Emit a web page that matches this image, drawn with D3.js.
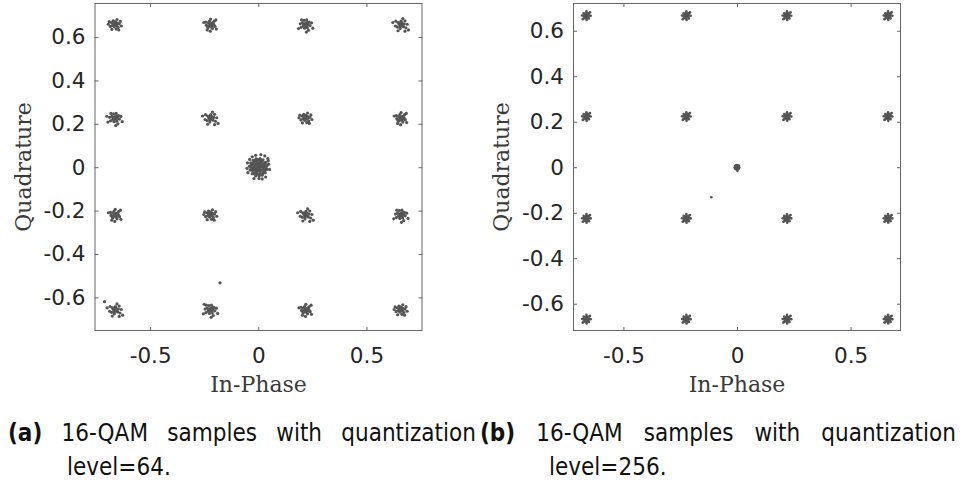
<!DOCTYPE html>
<html>
<head>
<meta charset="utf-8">
<script src="https://cdn.jsdelivr.net/npm/d3@7"></script>
<style>
  body { margin: 0; background: #fff; }
  svg { display: block; }
</style>
</head>
<body>
<svg id="chart" width="968" height="486"></svg>
<script>
// ---- data ----
// panel (a): quantization level 64
var levelsA_I = [-0.663, -0.222, 0.218, 0.658];
var levelsA_Q = [0.657, 0.226, -0.220, -0.658];
// spread of samples around a constellation point (I, Q offsets)
var jitterA0 = [[0,0],[0.008,-0.004],[-0.006,0.005],[0.012,0.006],[-0.011,-0.003],[0.004,0.012],[-0.003,-0.010],[0.015,-0.012],[-0.016,0.010],[0.020,0.004],[-0.021,-0.008],[0.006,-0.020],[-0.008,0.018],[0.025,0.015],[-0.026,0.014],[0.010,0.024],[0.018,-0.024],[-0.014,-0.022],[0.030,-0.006],[-0.030,0.002],[0.002,0.006],[-0.004,-0.002],[0.009,0.002],[-0.002,0.014]];
var jitterA1 = [[0,0],[0.006,0.006],[-0.006,-0.006],[0.012,0.010],[-0.012,-0.009],[0.018,0.016],[0.026,0.022],[-0.018,-0.002],[0.004,-0.010],[-0.008,0.008],[0.010,-0.018],[-0.020,0.012],[0.022,-0.008],[-0.030,0.010],[0.016,0.002],[-0.004,0.016],[0.000,-0.030],[-0.014,-0.024],[0.028,-0.020],[0.002,0.026],[-0.010,-0.014],[0.014,-0.004],[-0.002,0.004],[0.008,-0.002]];
var jitterA2 = [[0,0],[-0.005,0.004],[0.007,-0.006],[0.003,0.009],[-0.010,-0.006],[0.012,0.003],[-0.014,0.009],[0.009,-0.014],[-0.004,-0.016],[0.017,0.012],[-0.020,-0.012],[0.021,-0.004],[-0.006,0.020],[0.006,0.022],[-0.024,0.004],[0.028,0.008],[0.014,-0.026],[-0.018,0.022],[0.004,-0.034],[-0.032,-0.018],[0.034,-0.016],[0.001,-0.004],[-0.008,0.001],[0.010,0.010]];
var jitterA3 = [[0,0],[0.004,-0.003],[-0.007,0.002],[0.006,0.008],[-0.003,-0.008],[-0.012,0.010],[0.013,-0.009],[0.016,0.004],[-0.015,-0.011],[0.002,0.016],[-0.002,-0.018],[0.020,0.018],[-0.022,0.016],[0.024,-0.014],[-0.024,-0.006],[0.010,0.028],[-0.012,-0.028],[0.030,0.002],[0.020,-0.030],[-0.036,0.010],[0.036,-0.024],[0.008,-0.006],[-0.005,0.008]];
var jitterA = [jitterA0, jitterA1, jitterA2, jitterA3];
// which spread each cluster has (row by row, top to bottom)
var clusterJitterA = [0,1,2,3, 2,3,0,1, 1,0,3,2, 3,2,1,0];
// blob of samples at the origin
var centerA = [[0,0],[0.010,0],[0.007,0.007],[0,0.010],[-0.007,0.007],[-0.010,0],[-0.007,-0.007],[0,-0.010],[0.007,-0.007],
  [0.005,0.003],[-0.004,0.004],[0.003,-0.005],[-0.005,-0.004],[0.014,0.005],[-0.014,-0.005],[0.005,-0.014],[-0.005,0.014],
  [0.020,0.002],[0.016,0.012],[0.008,0.019],[-0.003,0.020],[-0.013,0.015],[-0.019,0.006],[-0.020,-0.005],[-0.014,-0.014],[-0.005,-0.019],[0.006,-0.019],[0.015,-0.013],
  [0.025,0.006],[-0.024,0.010],[0.010,0.025],[-0.010,-0.025],[0.024,-0.009],[-0.025,-0.010],
  [0.031,-0.002],[0.027,0.014],[0.018,0.025],[0.006,0.030],[-0.008,0.029],[-0.020,0.023],[-0.028,0.012],[-0.031,-0.002],[-0.027,-0.015],[-0.018,-0.025],[-0.004,-0.031],[0.010,-0.029],[0.022,-0.022],
  [0.035,0.008],[0.030,0.020],[0.014,0.033],[-0.002,0.035],[-0.016,0.032],[-0.030,0.018],[-0.035,0.006],[-0.034,-0.010],[-0.022,-0.030],[-0.010,-0.035],[0.005,-0.035],[0.020,-0.030],[0.030,-0.018],[0.036,-0.006],
  [0.040,0.006],[0.035,0.022],[0.022,0.034],[0.008,0.040],[-0.010,0.039],[-0.024,0.032],[-0.035,0.020],[-0.041,0.004],[-0.038,-0.013],[-0.028,-0.030],[-0.012,-0.040],[0.004,-0.041],[0.018,-0.037],[0.032,-0.026],[0.040,-0.010],
  [0.048,0.014],[0.046,0.030],[-0.028,0.048],[-0.012,0.055],[0.012,0.058],[0.030,0.052],[-0.050,0.020],[-0.048,-0.025],[-0.020,-0.052],[0.018,-0.054],[0.034,-0.045],[0.052,-0.010],[-0.052,-0.005],[0.003,-0.052],[-0.040,0.036],[0.044,0.040]];
var strayA = [[-0.177,-0.533],[-0.711,-0.620],[-0.250,-0.632],[-0.700,0.235]];

// panel (b): quantization level 256
var levelsB_I = [-0.663, -0.223, 0.220, 0.665];
var levelsB_Q = [0.666, 0.223, -0.225, -0.668];
var jitterB = [[0,0],[0.004,0],[-0.004,0],[0,0.004],[0,-0.004],[0.004,0.004],[-0.004,-0.004],[0.004,-0.004],[-0.004,0.004],
  [0.008,0],[-0.008,0],[0,0.008],[0,-0.008],[0.008,0.008],[-0.008,-0.008],[0.008,-0.008],[-0.008,0.008],
  [0.013,0.001],[-0.013,0],[0.001,0.013],[0,-0.013],[0.012,0.012],[-0.012,0.011],[0.011,-0.012],[-0.012,-0.012],
  [0.019,0],[-0.019,0.001],[0,0.019],[0.001,-0.019],[0.016,0.015],[-0.016,-0.015]];
var centerB = [[0,0],[0.005,0],[-0.005,0],[0,0.005],[0,-0.005],[0.008,0.006],[-0.008,0.006],[0.008,-0.006],[-0.008,-0.006],
  [0.010,0],[-0.010,0],[0,0.010],[0,-0.010],[0.004,0.009],[-0.004,-0.009],[0.004,-0.009],[-0.004,0.009],[0.002,-0.016]];
var strayB = [[-0.113,-0.132]];

var yTicks = [-0.6, -0.4, -0.2, 0, 0.2, 0.4, 0.6];
var xTicks = [-0.5, 0, 0.5];
var captionA = ["(a)", "16-QAM samples with quantization", "level=64."];
var captionB = ["(b)", "16-QAM samples with quantization", "level=256."];

function buildPoints(levI, levQ, jitters, whichJitter, center, stray) {
  var pts = [];
  levQ.forEach(function (q, r) {
    levI.forEach(function (i, c) {
      var jit = whichJitter ? jitters[whichJitter[r * 4 + c]] : jitters;
      jit.forEach(function (o) { pts.push([i + o[0], q + o[1]]); });
    });
  });
  center.forEach(function (o) { pts.push(o); });
  stray.forEach(function (o) { pts.push(o); });
  return pts;
}

var svg = d3.select("#chart");
var tickFont = "'DejaVu Sans', sans-serif";
var labelFont = "'DejaVu Serif', serif";

function panel(cfg) {
  var g = svg.append("g").attr("transform", "translate(" + cfg.left + "," + cfg.top + ")");
  var x = d3.scaleLinear().domain(cfg.xdom).range([0, cfg.w]);
  var y = d3.scaleLinear().domain(cfg.ydom).range([cfg.h, 0]);
  var fmt = function (d) { return d === 0 ? "0" : String(d); };

  g.selectAll("circle")
    .data(cfg.points)
    .enter().append("circle")
    .attr("cx", function (d) { return x(d[0]); })
    .attr("cy", function (d) { return y(d[1]); })
    .attr("r", cfg.r)
    .attr("fill", "#555");

  var axes = [
    { a: d3.axisLeft(y).tickValues(yTicks).tickFormat(fmt), t: "translate(0,0)", p: 9 },
    { a: d3.axisRight(y).tickValues(yTicks).tickFormat(""), t: "translate(" + cfg.w + ",0)", p: 9 },
    { a: d3.axisBottom(x).tickValues(xTicks).tickFormat(fmt), t: "translate(0," + cfg.h + ")", p: 17 },
    { a: d3.axisTop(x).tickValues(xTicks).tickFormat(""), t: "translate(0,0)", p: 9 }
  ];
  axes.forEach(function (ax) {
    var a = g.append("g").attr("transform", ax.t)
      .call(ax.a.tickSize(-4).tickPadding(ax.p));
    a.select(".domain").remove();
    a.selectAll("line").attr("stroke", "#666");
    a.selectAll("text").attr("fill", "#262626")
      .style("font-family", tickFont).style("font-size", "21.5px");
  });

  g.append("rect")
    .attr("x", 0.5).attr("y", 0.5)
    .attr("width", cfg.w - 1).attr("height", cfg.h - 1)
    .attr("fill", "none").attr("stroke", "#666");

  g.append("text")
    .attr("transform", "translate(" + cfg.ylabX + "," + (cfg.h / 2) + ") rotate(-90)")
    .attr("text-anchor", "middle")
    .attr("fill", "#3a3a3a")
    .style("font-family", labelFont).style("font-size", "22px")
    .text("Quadrature");

  g.append("text")
    .attr("x", cfg.w / 2).attr("y", cfg.xlabY)
    .attr("text-anchor", "middle")
    .attr("fill", "#3a3a3a")
    .style("font-family", labelFont).style("font-size", "22px")
    .text("In-Phase");
}

panel({ left: 94.5, top: 3, w: 328, h: 328, xdom: [-0.757, 0.759], ydom: [-0.755, 0.757],
  r: 1.6, ylabX: -64, xlabY: 389,
  points: buildPoints(levelsA_I, levelsA_Q, jitterA, clusterJitterA, centerA, strayA) });
panel({ left: 573, top: 3, w: 328, h: 328, xdom: [-0.722, 0.722], ydom: [-0.72, 0.722],
  r: 1.3, ylabX: -64, xlabY: 389,
  points: buildPoints(levelsB_I, levelsB_Q, jitterB, null, centerB, strayB) });

// captions: narrow sans, first line justified between two edges
var capFont = "'DejaVu Sans', sans-serif";
var capScale = 0.9;
function caption(cap, x0, x1, indent) {
  var g = svg.append("g")
    .attr("transform", "scale(" + capScale + ",1)")
    .style("font-family", capFont).style("font-size", "24px").attr("fill", "#111");
  var words = [cap[0]].concat(cap[1].split(" "));
  var nodes = words.map(function (w, k) {
    return g.append("text").attr("y", 441)
      .style("font-weight", k === 0 ? "bold" : "normal").text(w);
  });
  var widths = nodes.map(function (n) { return n.node().getComputedTextLength() * capScale; });
  var gap = (x1 - x0 - d3.sum(widths)) / (words.length - 1);
  var cx = x0;
  nodes.forEach(function (n, k) { n.attr("x", cx / capScale); cx += widths[k] + gap; });
  g.append("text").attr("x", indent / capScale).attr("y", 475).text(cap[2]);
}
caption(captionA, 8, 476, 67);
caption(captionB, 480, 956, 549);
</script>
</body>
</html>
